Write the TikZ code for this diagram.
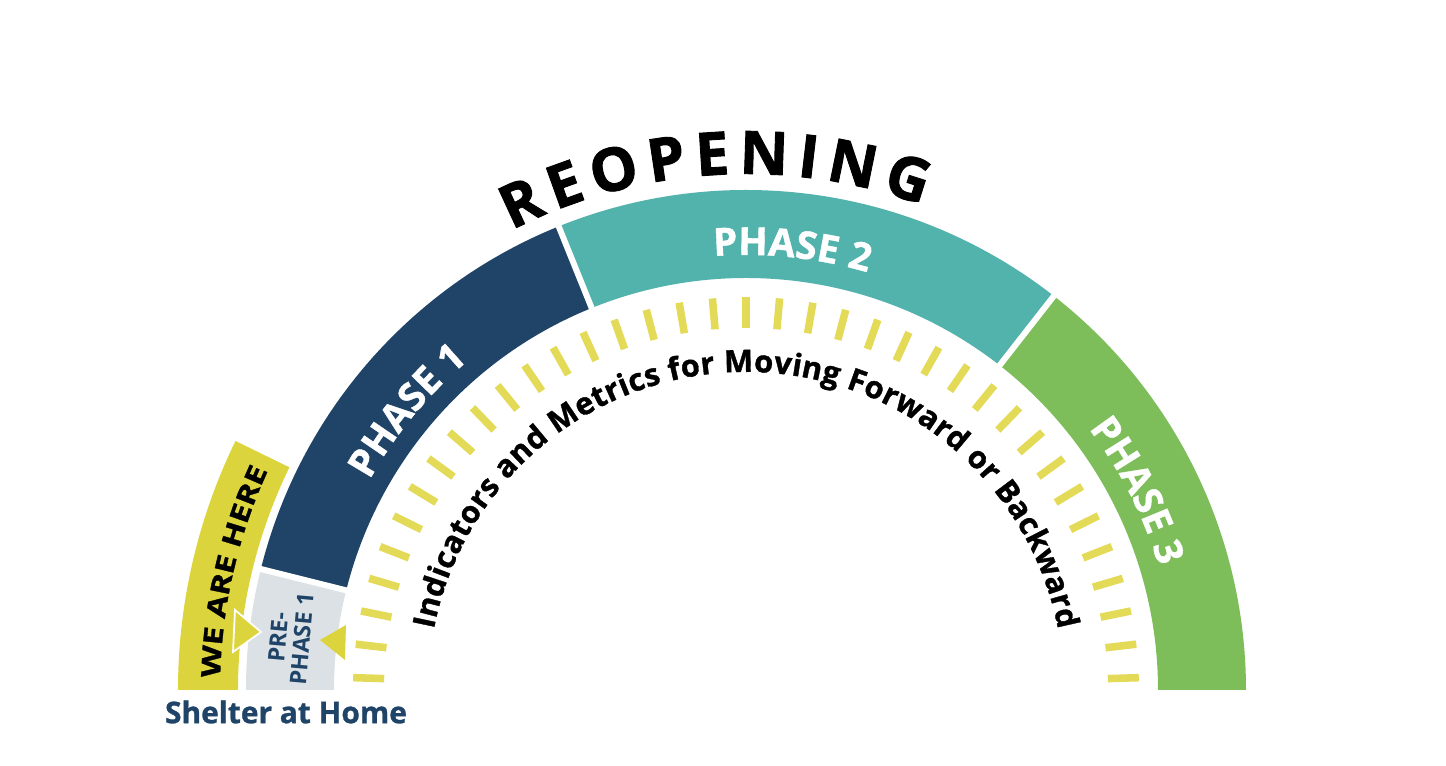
\documentclass[tikz,border=0pt]{standalone}
\usepackage{fontspec}
\setmainfont{Open Sans}
\usepackage{tikz}
\usetikzlibrary{decorations.text}
\usepackage{xcolor}
\definecolor{navy}{HTML}{1F4468}
\definecolor{lagoon}{HTML}{52B2AC}
\definecolor{leaf}{HTML}{7DBE5B}
\definecolor{mustard}{HTML}{DCD43C}
\definecolor{tickyellow}{HTML}{E3DA58}
\definecolor{fog}{HTML}{DCE1E5}
\newcommand{\reofont}{\bfseries\fontsize{34}{34}\addfontfeature{FakeBold=1.5}\selectfont}
\newcommand{\phasefont}{\bfseries\fontsize{22}{22}\addfontfeature{FakeBold=1}\selectfont}
\newcommand{\metricfont}{\bfseries\fontsize{17.5}{17.5}\addfontfeature{FakeBold=1.2}\selectfont}
\newcommand{\herefont}{\bfseries\fontsize{15}{15}\addfontfeature{FakeStretch=1.25,FakeBold=1.2}\selectfont}
\tikzstyle{seam} = [white, line width=3.4pt]
\tikzstyle{tickmark} = [tickyellow, line width=4.3pt]
\tikzstyle{pointer} = [fill=mustard, draw=white, line width=1pt]
\tikzstyle{arctext} = [decorate, decoration={text along path, text align=center}]

\begin{document}
\begin{tikzpicture}[x=0.02cm, y=0.02cm]
\useasboundingbox (-746,-76) rectangle (700,690);

% Bands
\fill[mustard] (180:508) -- (180:568) arc (180:154:568) -- (154:508) arc (154:180:508) -- cycle;
\fill[fog] (180:412) -- (180:500) arc (180:166:500) -- (166:412) arc (166:180:412) -- cycle;
\fill[navy] (166:412) -- (166:500) arc (166:112:500) -- (112:412) arc (112:166:412) -- cycle;
\fill[lagoon] (112:412) -- (112:500) arc (112:52:500) -- (52:412) arc (52:112:412) -- cycle;
\fill[leaf] (52:412) -- (52:500) arc (52:0:500) -- (0:412) arc (0:52:412) -- cycle;
\foreach \a in {166,112,52}
  \draw[seam] (\a:405) -- (\a:505);

% Ticks
\foreach \i in {0,...,36}
  \draw[tickmark] ({1.8+4.9*\i}:362) -- ({1.8+4.9*\i}:393);

% Labels
\path[arctext, decoration={text align={fit to path}, text={|\reofont|REOPENING}}]
  (117:516) arc (117:70:516);
\path[arctext, decoration={text align={fit to path}, text={|\metricfont|Indicators and Metrics for Moving Forward or Backward}}]
  (169:318) arc (169:11:318);
\path[arctext, decoration={text color=white, text={|\phasefont|PHASE 1}}]
  (166:431) arc (166:115:431);
\path[arctext, decoration={text color=white, text={|\phasefont|PHASE 2}}]
  (110:435) arc (110:58:435);
\path[arctext, decoration={text color=white, text={|\phasefont|PHASE 3}}]
  (52:431) arc (52:2:431);
\path[arctext, decoration={text={|\herefont|WE ARE HERE}}]
  (179:526) arc (179:155:526);
\node (prephase) [rotate=85, align=center, text=navy, font=\bfseries\fontsize{13}{13.5}\selectfont] at (-456,52) {PRE-\\PHASE 1};
\node (shelter) [text=navy, font=\bfseries\fontsize{17}{20}\addfontfeature{FakeBold=1}\selectfont] at (-460,-22) {Shelter at Home};

% Arrows
\filldraw[pointer] (-511,80) -- (-485,58) -- (-513,38) -- cycle;
\fill[mustard] (-400,65) -- (-426,50) -- (-401,30) -- cycle;

\end{tikzpicture}
\end{document}
